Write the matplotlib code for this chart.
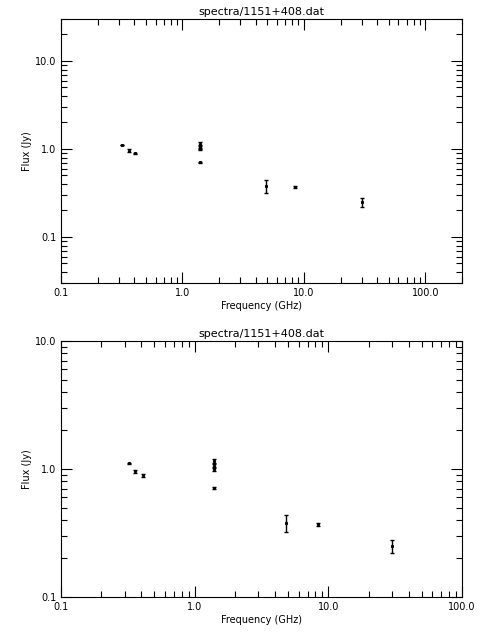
import numpy as np
import matplotlib
matplotlib.use('Agg')
import matplotlib.pyplot as plt
import matplotlib.ticker as ticker

freq = [0.32, 0.36, 0.41, 1.4, 1.4, 1.4, 1.4, 4.85, 8.4, 30.0]
flux = [1.11, 0.96, 0.89, 1.15, 1.05, 1.0, 0.71, 0.38, 0.37, 0.25]
err = [0.01, 0.03, 0.02, 0.04, 0.04, 0.03, 0.01, 0.06, 0.01, 0.03]
title = 'spectra/1151+408.dat'

plt.rcParams['font.family'] = 'DejaVu Sans'
plt.rcParams['font.size'] = 7

fig = plt.figure(figsize=(4.8, 6.4), dpi=100, facecolor='w')
ax1 = fig.add_axes([61/480, 1-283/640, 401/480, 264/640])
ax2 = fig.add_axes([61/480, 1-597/640, 401/480, 256/640])


def style(ax, xlim, ylim):
    ax.errorbar(freq, flux, yerr=err, fmt='s', ms=1.2, color='k',
                ecolor='k', elinewidth=1, capsize=1.5, capthick=1)
    ax.set_xscale('log')
    ax.set_yscale('log')
    ax.set_xlim(xlim)
    ax.set_ylim(ylim)
    fmt = ticker.FuncFormatter(lambda v, p: '%.1f' % v)
    ax.xaxis.set_major_formatter(fmt)
    ax.yaxis.set_major_formatter(fmt)
    ax.xaxis.set_minor_formatter(ticker.NullFormatter())
    ax.yaxis.set_minor_formatter(ticker.NullFormatter())
    ax.tick_params(which='both', direction='in', top=True, right=True, width=0.8)
    ax.tick_params(which='major', length=8)
    ax.tick_params(which='minor', length=4)
    for s in ax.spines.values():
        s.set_linewidth(0.8)
    ax.set_title(title, fontsize=8, pad=3)
    ax.set_xlabel('Frequency (GHz)', labelpad=2)
    ax.set_ylabel('Flux (Jy)', labelpad=2)


style(ax1, (0.1, 200), (0.03, 30))
style(ax2, (0.1, 100), (0.1, 10))

fig.savefig('out.png', dpi=100)
